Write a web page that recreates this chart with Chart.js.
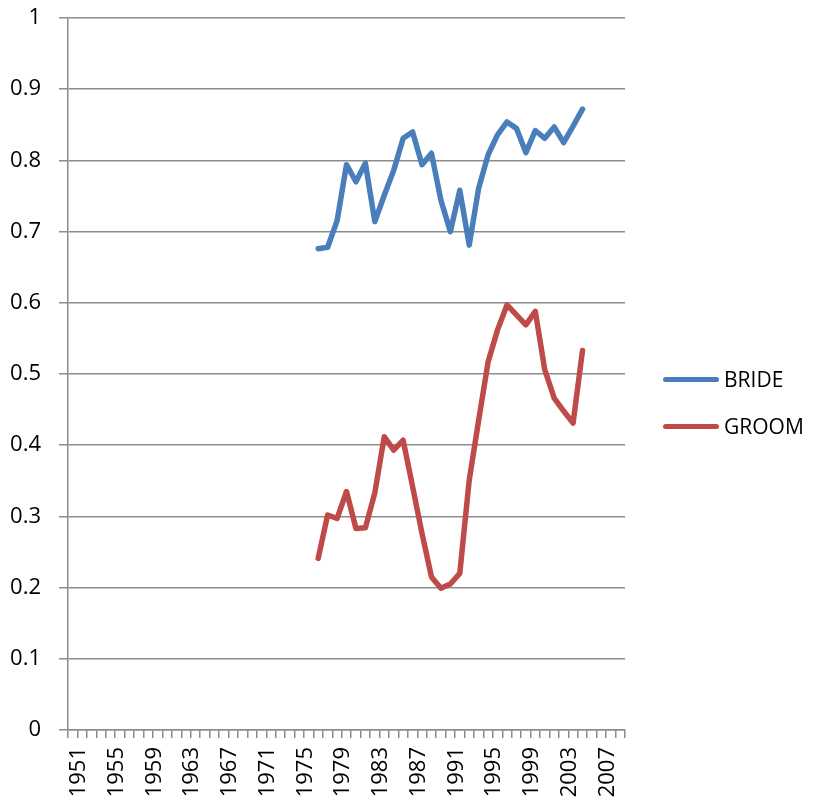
<!DOCTYPE html>
<html>
<head>
<meta charset="utf-8">
<script src="https://cdn.jsdelivr.net/npm/chart.js@4"></script>
<style>
  body { margin: 0; background: #fff; }
  #wrap { position: relative; width: 813px; height: 805px; }
  #legend { position: absolute; left: 663px; top: 364px; font-family: "Open Sans", sans-serif; font-size: 21px; color: #000; }
  .item { display: flex; align-items: center; height: 30px; margin-bottom: 17px; }
  .swatch { width: 56px; height: 5px; border-radius: 3px; margin-right: 5px; }
</style>
</head>
<body>
<div id="wrap">
  <canvas id="chart" width="813" height="805"></canvas>
  <div id="legend"></div>
</div>
<script>
// years 1951..2009 on the category axis
const years = [];
for (let y = 1951; y <= 2009; y++) years.push(String(y));

const dataYears = ['1977','1978','1979','1980','1981','1982','1983','1984','1985','1986',
                   '1987','1988','1989','1990','1991','1992','1993','1994','1995','1996',
                   '1997','1998','1999','2000','2001','2002','2003','2004','2005'];

const brideValues = [0.676, 0.678, 0.715, 0.794, 0.770, 0.796, 0.714, 0.751, 0.786, 0.831,
                     0.840, 0.794, 0.810, 0.744, 0.700, 0.758, 0.681, 0.761, 0.808, 0.836,
                     0.854, 0.845, 0.811, 0.842, 0.831, 0.847, 0.825, 0.848, 0.872];

const groomValues = [0.241, 0.302, 0.297, 0.335, 0.283, 0.284, 0.333, 0.412, 0.393, 0.407,
                     0.342, 0.276, 0.215, 0.199, 0.205, 0.220, 0.351, 0.435, 0.517, 0.562,
                     0.597, 0.583, 0.569, 0.588, 0.506, 0.466, 0.448, 0.431, 0.533];

const seriesNames = ['BRIDE', 'GROOM'];
const seriesColors = ['#4A7EBB', '#BE4B48'];

// spread values over the full year axis, gaps stay null
function alignToYears(values) {
    return years.map(y => {
        const i = dataYears.indexOf(y);
        return i >= 0 ? values[i] : null;
    });
}

const gridColor = '#8c8c8c';
const fontFamily = '"Open Sans", sans-serif';

const chart = new Chart(document.getElementById('chart'), {
    type: 'line',
    data: {
        labels: years,
        datasets: [brideValues, groomValues].map((vals, i) => ({
            label: seriesNames[i],
            data: alignToYears(vals),
            borderColor: seriesColors[i],
            backgroundColor: seriesColors[i],
            borderWidth: 5.5,
            pointRadius: 0,
            tension: 0,
            borderJoinStyle: 'round',
            borderCapStyle: 'round',
            spanGaps: false
        }))
    },
    options: {
        responsive: false,
        animation: false,
        layout: { padding: { top: 18, right: 188, left: 0, bottom: 0 } },
        plugins: {
            legend: { display: false },
            tooltip: { enabled: false }
        },
        scales: {
            x: {
                offset: true,
                afterFit: s => { s.height = 75; s.paddingLeft = 0; s.paddingRight = 0; },
                grid: {
                    offset: true,
                    drawOnChartArea: false,
                    drawTicks: true,
                    tickLength: 8,
                    color: gridColor,
                    lineWidth: 1.5
                },
                border: { color: gridColor, width: 1.5 },
                ticks: {
                    autoSkip: false,
                    minRotation: 90,
                    maxRotation: 90,
                    padding: 9,
                    labelOffset: 6,
                    color: '#000',
                    font: { family: fontFamily, size: 22 },
                    callback: (val, idx) => idx % 4 === 0 ? years[idx] : ''
                }
            },
            y: {
                min: 0,
                max: 1,
                afterFit: s => { s.width = 68; s.paddingTop = 0; s.paddingBottom = 0; },
                grid: {
                    color: gridColor,
                    lineWidth: 1.5,
                    tickLength: 9
                },
                border: { color: gridColor, width: 1.5 },
                ticks: {
                    stepSize: 0.1,
                    padding: 18,
                    color: '#000',
                    font: { family: fontFamily, size: 22 },
                    callback: v => String(Math.round(v * 10) / 10)
                }
            }
        }
    }
});

// legend built from the datasets
const legend = document.getElementById('legend');
chart.data.datasets.forEach(ds => {
    const item = document.createElement('div');
    item.className = 'item';
    const sw = document.createElement('div');
    sw.className = 'swatch';
    sw.style.background = ds.borderColor;
    const txt = document.createElement('span');
    txt.textContent = ds.label;
    item.appendChild(sw);
    item.appendChild(txt);
    legend.appendChild(item);
});
</script>
</body>
</html>
